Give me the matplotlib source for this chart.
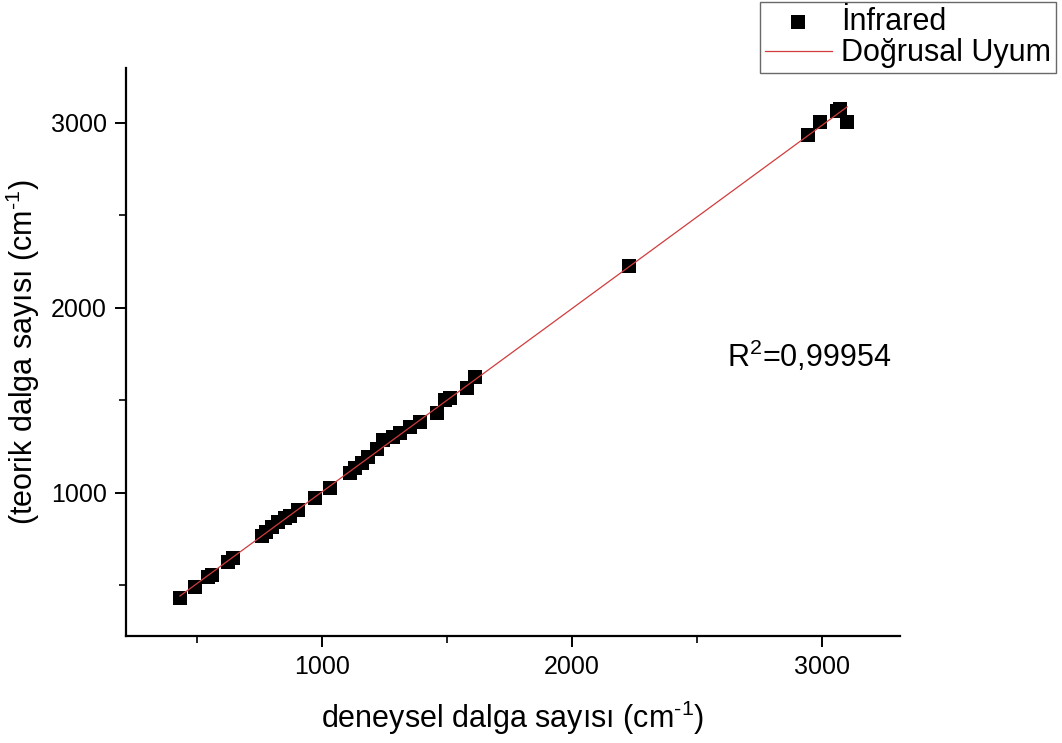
import numpy as np
import matplotlib
matplotlib.use("Agg")
import matplotlib.pyplot as plt
from matplotlib.ticker import MultipleLocator

plt.rcParams['font.family'] = ['Liberation Sans', 'DejaVu Sans']
plt.rcParams['mathtext.fontset'] = 'custom'
plt.rcParams['mathtext.rm'] = 'Liberation Sans'
plt.rcParams['mathtext.default'] = 'regular'

# deneysel (x) vs teorik (y) dalga sayilari
deneysel = [432, 492, 544, 560, 624, 644, 760, 776, 800, 824, 852, 872, 904,
            972, 1032, 1112, 1132, 1160, 1184, 1220, 1244, 1284, 1312, 1352,
            1392, 1460, 1492, 1512, 1580, 1612, 2228, 2944, 2992, 3060, 3072,
            3100]
teorik = [432, 492, 546, 557, 627, 649, 768, 789, 816, 843, 865, 876, 908,
          973, 1027, 1108, 1135, 1162, 1195, 1238, 1286, 1303, 1324, 1357,
          1384, 1432, 1503, 1514, 1568, 1627, 2227, 2935, 3005, 3060, 3075,
          3005]
r2_text = "R$^{2}$=0,99954"

x = np.array(deneysel)
y = np.array(teorik)
slope, intercept = np.polyfit(x, y, 1)
xfit = np.array([x.min(), x.max()])

fig = plt.figure(figsize=(10.62, 7.43), dpi=100)
ax = fig.add_axes([0.1186, 0.144, 0.729, 0.765])

ax.scatter(x, y, marker='s', s=90, color='black', linewidths=0, zorder=2,
           label='İnfrared')
ax.plot(xfit, slope * xfit + intercept, color='#d23c3c', lw=0.9, zorder=3,
        label='Doğrusal Uyum')

ax.set_xlim(216, 3312)
ax.set_ylim(227, 3297)
ax.xaxis.set_major_locator(MultipleLocator(1000))
ax.xaxis.set_minor_locator(MultipleLocator(500))
ax.yaxis.set_major_locator(MultipleLocator(1000))
ax.yaxis.set_minor_locator(MultipleLocator(500))

for s in ['top', 'right']:
    ax.spines[s].set_visible(False)
for s in ['left', 'bottom']:
    ax.spines[s].set_linewidth(1.6)
ax.tick_params(which='major', direction='out', length=8, width=1.4,
               labelsize=18, pad=6)
ax.tick_params(which='minor', direction='out', length=5, width=1.2)

ax.set_xlabel(r'deneysel dalga sayısı (cm$^{\text{-}1}$)', fontsize=22,
              labelpad=14)
ax.set_ylabel(r'(teorik dalga sayısı (cm$^{\text{-}1}$)', fontsize=22,
              labelpad=6)

ax.text(2620, 1680, r2_text, fontsize=22, ha='left', va='baseline')

leg = fig.legend(loc='upper right', bbox_to_anchor=(0.994, 0.997),
                 fontsize=22, frameon=True, fancybox=False, borderpad=0.15,
                 handlelength=2.2, handletextpad=0.3, labelspacing=0.05,
                 borderaxespad=0)
leg.get_frame().set_edgecolor('#444444')
leg.get_frame().set_linewidth(1.0)

fig.savefig('out.png', dpi=100)
